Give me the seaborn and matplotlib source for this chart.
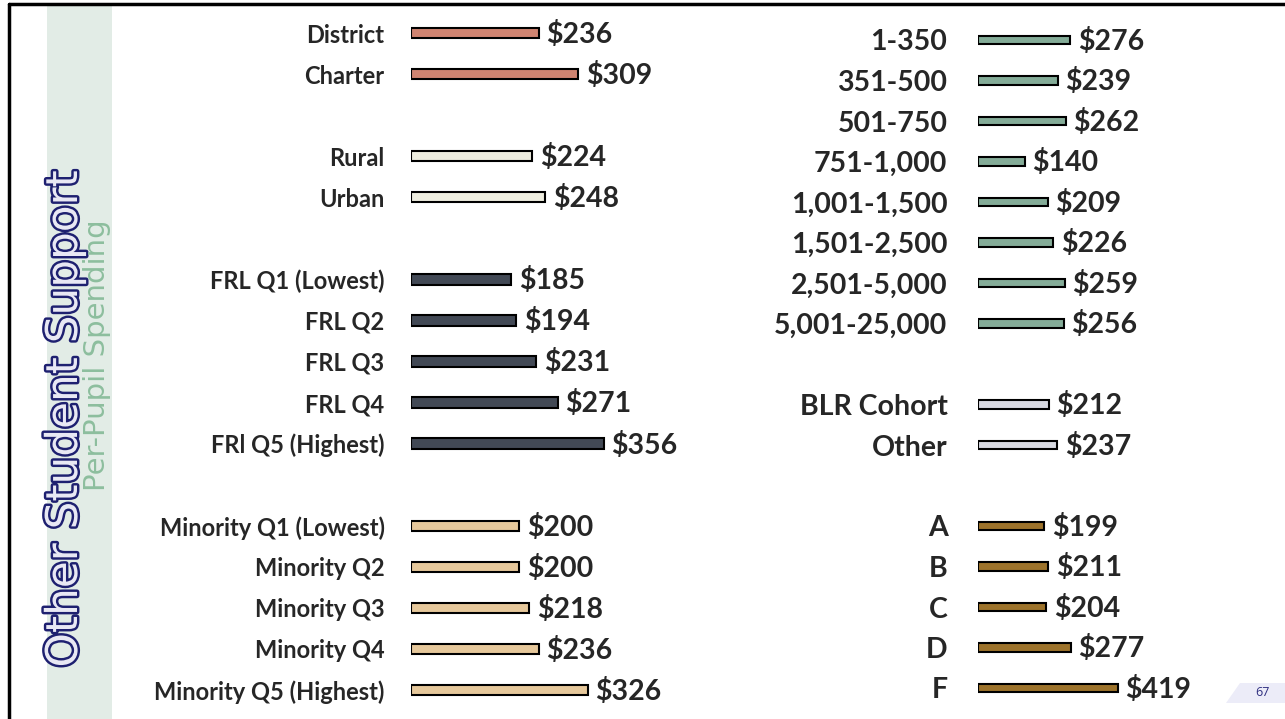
import numpy as np
import pandas as pd
import matplotlib
matplotlib.use('Agg')
import matplotlib.pyplot as plt
import matplotlib.patheffects as pe
from matplotlib.patches import Rectangle, Polygon
from matplotlib.lines import Line2D
import seaborn as sns

sns.set_style('white')
plt.rcParams['font.family'] = ['Lato', 'DejaVu Sans']

W, H = 1285, 719

# ---- data ----
governance = ['District', 'Charter']
governance_vals = [236, 309]
locale = ['Rural', 'Urban']
locale_vals = [224, 248]
frl = ['FRL Q1 (Lowest)', 'FRL Q2', 'FRL Q3', 'FRL Q4', 'FRl Q5 (Highest)']
frl_vals = [185, 194, 231, 271, 356]
minority = ['Minority Q1 (Lowest)', 'Minority Q2', 'Minority Q3', 'Minority Q4',
            'Minority Q5 (Highest)']
minority_vals = [200, 200, 218, 236, 326]

enrollment = ['1-350', '351-500', '501-750', '751-1,000', '1,001-1,500',
              '1,501-2,500', '2,501-5,000', '5,001-25,000']
enrollment_vals = [276, 239, 262, 140, 209, 226, 259, 256]
cohort = ['BLR Cohort', 'Other']
cohort_vals = [212, 237]
grade = ['A', 'B', 'C', 'D', 'F']
grade_vals = [199, 211, 204, 277, 419]

colors = {
    'governance': '#E07B61',
    'locale': '#F1EFDC',
    'frl': '#3F4858',
    'minority': '#F2CB8F',
    'enrollment': '#7DB398',
    'cohort': '#D5D7E2',
    'grade': '#B07818',
}


def panel_frame(groups):
    rows, order = [], []
    for i, (name, labels, vals) in enumerate(groups):
        if i > 0:
            order.append(f'__gap{i}')
        for lab, v in zip(labels, vals):
            rows.append({'label': lab, 'value': v, 'group': name})
            order.append(lab)
    return pd.DataFrame(rows), order


left_df, left_order = panel_frame([
    ('governance', governance, governance_vals),
    ('locale', locale, locale_vals),
    ('frl', frl, frl_vals),
    ('minority', minority, minority_vals),
])
right_df, right_order = panel_frame([
    ('enrollment', enrollment, enrollment_vals),
    ('cohort', cohort, cohort_vals),
    ('grade', grade, grade_vals),
])

fig = plt.figure(figsize=(W / 100, H / 100), dpi=100)

# background decorations
fig.patches.append(Rectangle((47 / W, 0), 65 / W, 1 - 5 / H, transform=fig.transFigure,
                             facecolor='#E2ECE6', edgecolor='none', zorder=0))
fig.lines.append(Line2D([9 / W, 9 / W], [0, 1 - 4 / H], transform=fig.transFigure,
                        color='black', lw=2.5))
fig.lines.append(Line2D([9 / W, 1], [1 - 4 / H, 1 - 4 / H], transform=fig.transFigure,
                        color='black', lw=2.5))


def draw_panel(df, order, rect, xmax, width, label_size, pad):
    ax = fig.add_axes(rect)
    sns.barplot(data=df, x='value', y='label', order=order, hue='group',
                palette=colors, dodge=False, width=width, edgecolor='black',
                linewidth=1.5, errorbar=None, legend=False, ax=ax)
    ax.set_xlim(0, xmax)
    ax.set_ylim(len(order) - 0.5, -0.5)
    ax.set_yticks(range(len(order)))
    ax.set_yticklabels(['' if o.startswith('__') else o for o in order],
                       fontsize=label_size, fontweight='bold')
    ax.tick_params(axis='y', length=0, pad=pad)
    ax.set_xticks([])
    ax.set_xlabel('')
    ax.set_ylabel('')
    for s in ax.spines.values():
        s.set_visible(False)
    ax.patch.set_alpha(0)
    for container in ax.containers:
        for bar in container:
            w = bar.get_width()
            if np.isnan(w) or w == 0:
                continue
            ax.annotate(f'${w:.0f}', xy=(w, bar.get_y() + bar.get_height() / 2),
                        xytext=(5.5, -1), textcoords='offset points',
                        va='center', ha='left', fontsize=20.5, fontweight='bold')
    return ax


draw_panel(left_df, left_order,
           [411 / W, 8.5 / H, 300 / W, 698 / H], 300 / 0.542, 0.25, 17, 19)
draw_panel(right_df, right_order,
           [978 / W, 10.75 / H, 200 / W, 688.5 / H], 200 / 0.334, 0.22, 20.5, 22)

# side titles
fig.text(77 / W, 1 - 419 / H, 'Other Student Support', rotation=90,
         rotation_mode='anchor', ha='center', va='baseline',
         fontsize=31.5, color='#E8E8F4', family='DejaVu Sans',
         path_effects=[pe.withStroke(linewidth=3.5, foreground='#1E2070')])
fig.text(105 / W, 1 - 355 / H, 'Per-Pupil Spending', rotation=90,
         rotation_mode='anchor', ha='center', va='baseline',
         fontsize=21, color='#8DBE9E', family='DejaVu Sans')

# page number
fig.patches.append(Polygon([(1226 / W, 1 - 703 / H), (1240 / W, 1 - 683 / H),
                            (1, 1 - 683 / H), (1, 1 - 703 / H)],
                           closed=True, transform=fig.transFigure,
                           facecolor='#ECECF8', edgecolor='none'))
fig.text(1262 / W, 1 - 692 / H, '67', ha='center', va='center', fontsize=9,
         color='#2D2D7F', family='Open Sans')

plt.savefig('out.png', dpi=100)
plt.close()
